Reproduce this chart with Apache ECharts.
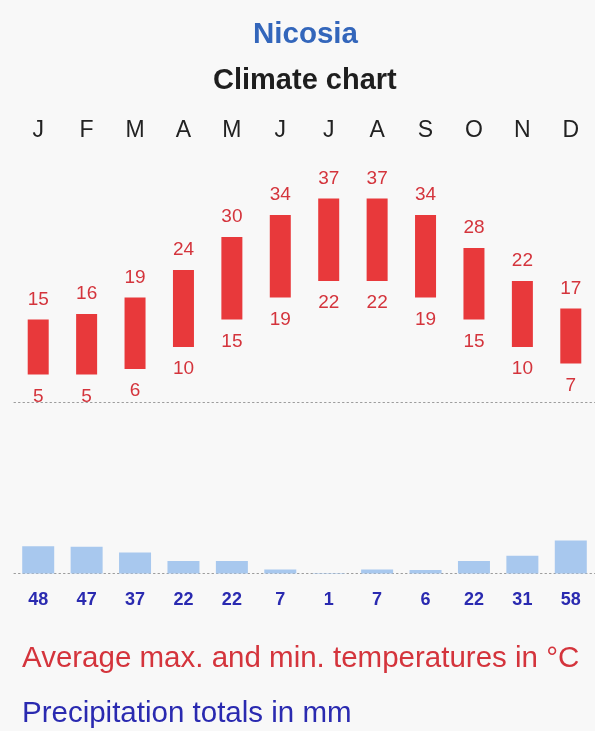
<!DOCTYPE html>
<html>
<head>
<meta charset="utf-8">
<title>Nicosia climate chart</title>
<script src="https://cdn.jsdelivr.net/npm/echarts@6/dist/echarts.min.js"></script>
<style>
  html, body { margin: 0; padding: 0; background: #f8f8f8; }
  #chart { width: 595px; height: 731px; }
</style>
</head>
<body>
<div id="chart"></div>
<script>
// Monthly climate normals for Nicosia
const months = ['J', 'F', 'M', 'A', 'M', 'J', 'J', 'A', 'S', 'O', 'N', 'D'];
const maxTemp = [15, 16, 19, 24, 30, 34, 37, 37, 34, 28, 22, 17];
const minTemp = [5, 5, 6, 10, 15, 19, 22, 22, 19, 15, 10, 7];
const precip = [48, 47, 37, 22, 22, 7, 1, 7, 6, 22, 31, 58];

// Height of each temperature bar (max minus min), stacked on an invisible min bar
const tempRange = maxTemp.map((v, i) => v - minTemp[i]);

const FONT = '"Liberation Sans", Arial, sans-serif';
const RED = '#e8393b';
const RED_TEXT = '#d4343c';
const BLUE_TEXT = '#2a2ab0';
const DOTTED = { color: '#9c9c9c', type: [1.5, 3], width: 1 };

const chart = echarts.init(document.getElementById('chart'), null, { renderer: 'canvas' });

chart.setOption({
  backgroundColor: '#f8f8f8',
  animation: false,
  title: [
    {
      text: 'Nicosia', left: 253, top: 20, padding: 0,
      textStyle: { fontFamily: FONT, fontSize: 29.5, fontWeight: 'bold', color: '#3366bb' }
    },
    {
      text: 'Climate chart', left: 213, top: 66, padding: 0,
      textStyle: { fontFamily: FONT, fontSize: 29, fontWeight: 'bold', color: '#1e1e1e' }
    },
    {
      text: 'Average max. and min. temperatures in °C', left: 22, top: 644, padding: 0,
      textStyle: { fontFamily: FONT, fontSize: 29.5, fontWeight: 'normal', color: RED_TEXT }
    },
    {
      text: 'Precipitation totals in mm', left: 22, top: 699, padding: 0,
      textStyle: { fontFamily: FONT, fontSize: 29.5, fontWeight: 'normal', color: BLUE_TEXT }
    }
  ],
  grid: [
    { left: 14, width: 582, top: 182, height: 220 },
    { left: 14, width: 582, top: 539.3, height: 34.2 }
  ],
  xAxis: [
    {
      gridIndex: 0, type: 'category', data: months, position: 'bottom',
      axisLine: { show: true, lineStyle: DOTTED },
      axisTick: { show: false }, axisLabel: { show: false }, splitLine: { show: false }
    },
    {
      gridIndex: 0, type: 'category', data: months, position: 'top',
      axisLine: { show: false }, axisTick: { show: false }, splitLine: { show: false },
      axisLabel: { show: true, margin: 40, fontFamily: FONT, fontSize: 23, color: '#222' }
    },
    {
      gridIndex: 1, type: 'category', data: months, position: 'bottom',
      axisLine: { show: true, lineStyle: DOTTED },
      axisTick: { show: false }, axisLabel: { show: false }, splitLine: { show: false }
    }
  ],
  yAxis: [
    { gridIndex: 0, type: 'value', min: 0, max: 40, show: false, splitLine: { show: false } },
    { gridIndex: 1, type: 'value', min: 0, max: 60, show: false, splitLine: { show: false } }
  ],
  series: [
    {
      name: 'min',
      type: 'bar', xAxisIndex: 0, yAxisIndex: 0, stack: 'temp',
      barWidth: 21,
      data: minTemp,
      itemStyle: { color: 'rgba(0,0,0,0)' },
      label: {
        show: true, position: 'insideTop', distance: 12.5,
        fontFamily: FONT, fontSize: 19, color: RED_TEXT,
        formatter: p => String(minTemp[p.dataIndex])
      },
      silent: true
    },
    {
      name: 'range',
      type: 'bar', xAxisIndex: 0, yAxisIndex: 0, stack: 'temp',
      barWidth: 21,
      data: tempRange,
      itemStyle: { color: RED },
      label: {
        show: true, position: 'top', distance: 10.5,
        fontFamily: FONT, fontSize: 19, color: RED_TEXT,
        formatter: p => String(maxTemp[p.dataIndex])
      }
    },
    {
      name: 'precip',
      type: 'bar', xAxisIndex: 2, yAxisIndex: 1,
      barWidth: 32,
      data: precip,
      itemStyle: { color: '#a8c8ee' },
      label: {
        show: true, position: 'bottom', distance: 17.5,
        fontFamily: FONT, fontSize: 18, fontWeight: 'bold', color: BLUE_TEXT,
        formatter: p => String(precip[p.dataIndex])
      }
    }
  ]
});
</script>
</body>
</html>
